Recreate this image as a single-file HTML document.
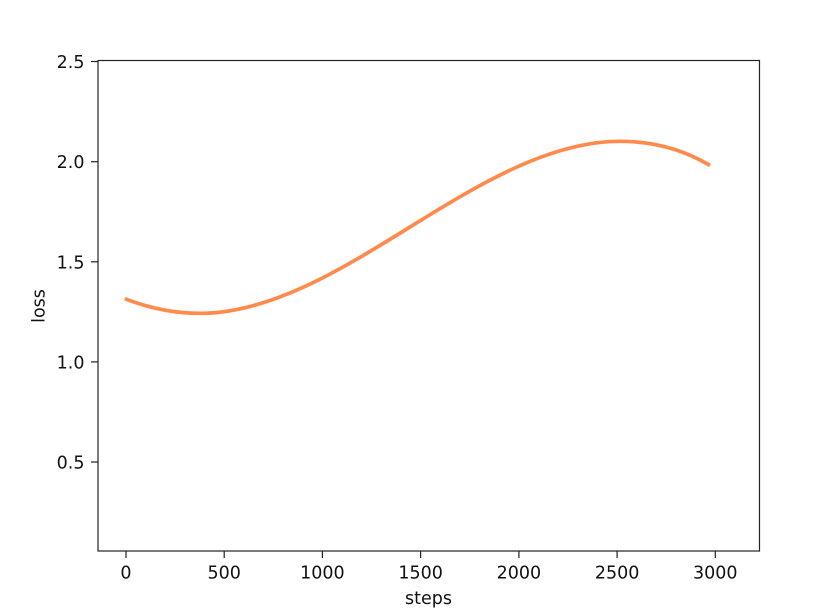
<!DOCTYPE html>
<html>
<head>
<meta charset="utf-8">
<style>
html,body{margin:0;padding:0;background:#fff;}
svg{display:block;}
text{font-family:"DejaVu Sans","Liberation Sans",sans-serif;font-size:17.5px;fill:#111;}
</style>
</head>
<body>
<svg width="815" height="608" viewBox="0 0 815 608" xmlns="http://www.w3.org/2000/svg">
<rect x="0" y="0" width="815" height="608" fill="#fff"/>
<!-- curve -->
<path fill="none" stroke="#ff8a4c" stroke-width="3.7" stroke-linejoin="round" stroke-linecap="square"
d="M126.5,299.3 C151,308.6 175.5,313.3 200,313.3 C270,313.3 340,270.4 410,227 C480,183.6 550,141.3 620,141.3 C649.5,141.3 679,147.4 708.5,164.5"/>
<!-- axes frame -->
<rect x="98" y="60.5" width="661.5" height="490.5" fill="none" stroke="#222" stroke-width="1.2"/>
<!-- y ticks -->
<g stroke="#222" stroke-width="1.2">
<line x1="91" y1="61.5" x2="98" y2="61.5"/>
<line x1="91" y1="161.7" x2="98" y2="161.7"/>
<line x1="91" y1="261.8" x2="98" y2="261.8"/>
<line x1="91" y1="361.9" x2="98" y2="361.9"/>
<line x1="91" y1="462" x2="98" y2="462"/>
</g>
<g text-anchor="end">
<text x="84.5" y="68">2.5</text>
<text x="84.5" y="168.2">2.0</text>
<text x="84.5" y="268.3">1.5</text>
<text x="84.5" y="368.4">1.0</text>
<text x="84.5" y="468.5">0.5</text>
</g>
<!-- x ticks -->
<g stroke="#222" stroke-width="1.2">
<line x1="126" y1="551" x2="126" y2="558"/>
<line x1="224.2" y1="551" x2="224.2" y2="558"/>
<line x1="322.4" y1="551" x2="322.4" y2="558"/>
<line x1="420.6" y1="551" x2="420.6" y2="558"/>
<line x1="518.9" y1="551" x2="518.9" y2="558"/>
<line x1="617.1" y1="551" x2="617.1" y2="558"/>
<line x1="715.3" y1="551" x2="715.3" y2="558"/>
</g>
<g text-anchor="middle">
<text x="126" y="578.5">0</text>
<text x="224.2" y="578.5">500</text>
<text x="322.4" y="578.5">1000</text>
<text x="420.6" y="578.5">1500</text>
<text x="518.9" y="578.5">2000</text>
<text x="617.1" y="578.5">2500</text>
<text x="715.3" y="578.5">3000</text>
</g>
<text x="428.5" y="604" text-anchor="middle">steps</text>
<text x="0" y="0" text-anchor="middle" transform="translate(44.5,306) rotate(-90)">loss</text>
</svg>
</body>
</html>
